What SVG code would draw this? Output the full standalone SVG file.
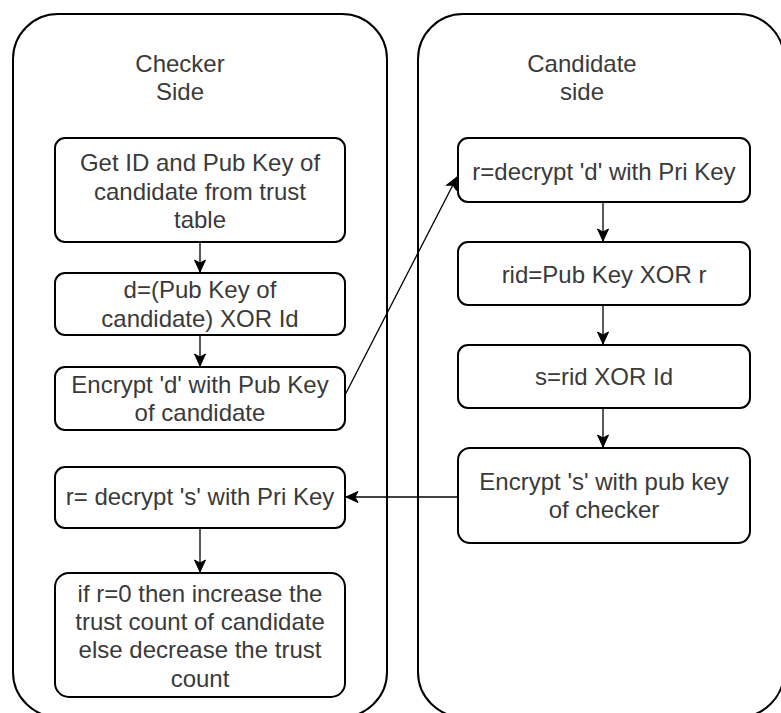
<svg xmlns="http://www.w3.org/2000/svg" width="781" height="713" viewBox="0 0 781 713">
<style>
.cont{fill:#fff;stroke:#000;stroke-width:2}
.box{fill:#fff;stroke:#000;stroke-width:2}
.t{font-family:"Liberation Sans",Arial,sans-serif;font-size:24px;fill:#3a3a3a;text-anchor:middle}
.c{fill:none;stroke:#000;stroke-width:1.3}
</style>
<defs>
<marker id="arr" markerUnits="userSpaceOnUse" markerWidth="14" markerHeight="14" viewBox="0 0 14 14" refX="13" refY="7" orient="auto">
<path d="M1,1.5 L13,7 L1,12.5 L4,7 z" fill="#000" stroke="#000" stroke-width="1"/>
</marker>
</defs>
<rect class="cont" x="13" y="14" width="374" height="703" rx="45" ry="45"/>
<rect class="cont" x="418" y="14" width="366" height="703" rx="45" ry="45"/>
<g id="title-checker"><text class="t" x="180" y="72">Checker</text><text class="t" x="180" y="100">Side</text></g>
<g id="title-candidate"><text class="t" x="582" y="72">Candidate</text><text class="t" x="582" y="100">side</text></g>
<g id="connectors">
<line class="c" x1="200" y1="242" x2="200" y2="272" marker-end="url(#arr)"/>
<line class="c" x1="200" y1="335" x2="200" y2="366" marker-end="url(#arr)"/>
<line class="c" x1="200" y1="528" x2="200" y2="572" marker-end="url(#arr)"/>
<line class="c" x1="603" y1="202" x2="603" y2="241" marker-end="url(#arr)"/>
<line class="c" x1="603" y1="305" x2="603" y2="344" marker-end="url(#arr)"/>
<line class="c" x1="603" y1="408" x2="603" y2="447" marker-end="url(#arr)"/>
<line class="c" x1="345" y1="395" x2="457" y2="177" stroke-width="1" marker-end="url(#arr)"/>
<line class="c" x1="458" y1="497" x2="346" y2="497" marker-end="url(#arr)"/>
</g>
<g id="n1"><rect class="box" x="55" y="138" width="290" height="104" rx="10"/>
<text class="t" x="200" y="171">Get ID and Pub Key of</text><text class="t" x="200" y="200">candidate from trust</text><text class="t" x="200" y="228">table</text></g>
<g id="n2"><rect class="box" x="55" y="273" width="290" height="62" rx="10"/>
<text class="t" x="200" y="298">d=(Pub Key of</text><text class="t" x="200" y="327">candidate) XOR Id</text></g>
<g id="n3"><rect class="box" x="55" y="367" width="290" height="63" rx="10"/>
<text class="t" x="200" y="393">Encrypt 'd' with Pub Key</text><text class="t" x="200" y="421">of candidate</text></g>
<g id="n4"><rect class="box" x="55" y="467" width="290" height="61" rx="10"/>
<text class="t" x="200" y="505">r= decrypt 's' with Pri Key</text></g>
<g id="n5"><rect class="box" x="55" y="573" width="290" height="124" rx="14"/>
<text class="t" x="200" y="602">if r=0 then increase the</text><text class="t" x="200" y="630">trust count of candidate</text><text class="t" x="200" y="658">else decrease the trust</text><text class="t" x="200" y="687">count</text></g>
<g id="r1"><rect class="box" x="458" y="138" width="292" height="64" rx="10"/>
<text class="t" x="604" y="180">r=decrypt 'd' with Pri Key</text></g>
<g id="r2"><rect class="box" x="458" y="242" width="292" height="63" rx="10"/>
<text class="t" x="604" y="283">rid=Pub Key XOR r</text></g>
<g id="r3"><rect class="box" x="458" y="345" width="292" height="63" rx="10"/>
<text class="t" x="604" y="385">s=rid XOR Id</text></g>
<g id="r4"><rect class="box" x="458" y="448" width="292" height="95" rx="12"/>
<text class="t" x="604" y="490">Encrypt 's' with pub key</text><text class="t" x="604" y="518">of checker</text></g>
</svg>
